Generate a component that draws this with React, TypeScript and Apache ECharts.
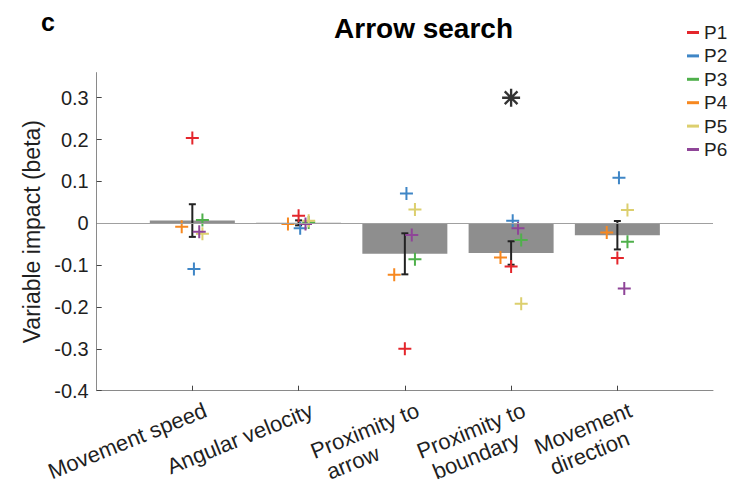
import { useEffect, useRef } from "react";
import * as echarts from "echarts";

// Predictors on the x axis (line breaks as in the axis labels)
const categories = [
  "Movement speed",
  "Angular velocity",
  "Proximity to\narrow",
  "Proximity to\nboundary",
  "Movement\ndirection",
];

// Group mean beta and its standard error for each predictor
const meanBeta = [0.0065, 0.001, -0.073, -0.071, -0.0285];
const semBeta = [0.039, 0.006, 0.049, 0.028, 0.034];

// Individual participants' betas, one value per predictor
const participants = ["P1", "P2", "P3", "P4", "P5", "P6"];
const betaP1 = [0.204, 0.018, -0.3, -0.103, -0.083];
const betaP2 = [-0.109, -0.012, 0.071, 0.006, 0.109];
const betaP3 = [0.008, 0.002, -0.086, -0.04, -0.044];
const betaP4 = [-0.008, -0.002, -0.123, -0.082, -0.022];
const betaP5 = [-0.025, 0.006, 0.033, -0.192, 0.032];
const betaP6 = [-0.02, -0.002, -0.028, -0.012, -0.156];

// Predictors marked as significant, and the height of the marker
const significantCategories = [4];
const significanceMarkLevel = 0.3;

// Tick values of the y axis
const yTicks = [-0.4, -0.3, -0.2, -0.1, 0, 0.1, 0.2, 0.3];

const FONT = "'Liberation Sans', Arial, Helvetica, sans-serif";
const TEXT = "#1f1f1f";
const AXIS = "#8a8a8a";
const COLORS = ["#e4262c", "#3f86c6", "#4fb04b", "#f7881f", "#dccf6e", "#8f4598"];
// horizontal offset of each participant's marker from the predictor centre
const JITTER = [0, 0.015, 0.095, -0.1, 0.095, 0.065];
// rotated tick labels hang slightly to the right of their tick
const LABEL_SHIFT = 0.08;
const X_MIN = 0.1;
const X_MAX = 5.9;

const CROSS = "path://M-1,-6.5H1V-1H6.5V1H1V6.5H-1V1H-6.5V-1H-1Z";

function asteriskPath(): string {
  const t = 0.13;
  let d = "";
  [0, 45, 90, 135].forEach((deg) => {
    const a = (deg * Math.PI) / 180;
    const c = Math.cos(a);
    const s = Math.sin(a);
    const pts = [
      [-t, -1],
      [t, -1],
      [t, 1],
      [-t, 1],
    ].map(([x, y]) => [x * c - y * s, x * s + y * c]);
    d +=
      "M" +
      pts.map((p) => p[0].toFixed(4) + "," + p[1].toFixed(4)).join("L") +
      "Z";
  });
  return "path://" + d;
}

export default function App() {
  const ref = useRef<HTMLDivElement>(null);

  useEffect(() => {
    document.body.style.margin = "0";
    if (!ref.current) return;
    const chart = echarts.init(ref.current, undefined, { renderer: "svg" });
    const betas = [betaP1, betaP2, betaP3, betaP4, betaP5, betaP6];
    const xIdx = categories.map((_, i) => i + 1);
    // blank end labels keep the rotated predictor labels clear of the
    // min/max overlap check
    const labelValues = [X_MIN, ...xIdx.map((i) => i + LABEL_SHIFT), X_MAX];

    const option: any = {
      animation: false,
      backgroundColor: "#ffffff",
      textStyle: { fontFamily: FONT },
      title: [
        {
          text: "Arrow search",
          left: 418.5,
          top: 9,
          textAlign: "center",
          textStyle: { fontSize: 28, fontWeight: "bold", color: "#000", fontFamily: FONT },
        },
        {
          text: "c",
          left: 36,
          top: 4,
          textStyle: { fontSize: 25, fontWeight: "bold", color: "#000", fontFamily: FONT },
        },
      ],
      legend: {
        data: participants,
        orient: "vertical",
        left: 687,
        top: 23,
        padding: 0,
        itemWidth: 12,
        itemHeight: 3,
        itemGap: 4.4,
        icon: "rect",
        textStyle: { fontSize: 19, lineHeight: 19, color: TEXT, fontFamily: FONT },
      },
      grid: { left: 96.7, right: 17, top: 72.6, bottom: 106.3 },
      xAxis: {
        type: "value",
        min: X_MIN,
        max: X_MAX,
        splitLine: { show: false },
        axisLine: { show: true, onZero: false, lineStyle: { color: AXIS, width: 1 } },
        axisTick: {
          show: true,
          inside: true,
          length: 5,
          customValues: xIdx,
          lineStyle: { color: "#444" },
        },
        axisLabel: {
          customValues: labelValues,
          showMinLabel: false,
          showMaxLabel: false,
          hideOverlap: false,
          rotate: 22,
          align: "right",
          verticalAlign: "top",
          margin: 7,
          formatter: (v: number) => {
            const idx = Math.round(v) - 1;
            if (v < 0.5 || v > categories.length + 0.5 || !categories[idx]) return "";
            const lines = categories[idx].split("\n");
            return lines.map((l, i) => (i === 0 ? "{a|" + l + "}" : "{b|" + l + "}")).join("\n");
          },
          rich: {
            a: { fontSize: 22, lineHeight: 25, color: TEXT, fontFamily: FONT },
            b: {
              fontSize: 22,
              lineHeight: 25,
              color: TEXT,
              fontFamily: FONT,
              align: "left",
              padding: [0, 0, 0, 7],
            },
          },
        },
      },
      yAxis: {
        type: "value",
        min: -0.4,
        max: 0.36,
        splitLine: { show: false },
        axisLine: { show: true, onZero: false, lineStyle: { color: AXIS, width: 1 } },
        axisTick: {
          show: true,
          inside: true,
          length: 5,
          customValues: yTicks,
          lineStyle: { color: "#444" },
        },
        axisLabel: {
          customValues: yTicks,
          showMinLabel: true,
          showMaxLabel: true,
          margin: 8,
          fontSize: 20,
          color: TEXT,
          fontFamily: FONT,
          formatter: (v: number) => (Math.abs(v) < 1e-9 ? "0" : v.toFixed(1)),
        },
        name: "Variable impact (beta)",
        nameLocation: "middle",
        nameGap: 42,
        nameTextStyle: { fontSize: 23, color: TEXT, fontFamily: FONT },
      },
      series: [
        {
          // zero reference line
          type: "line",
          data: [],
          z: 1,
          markLine: {
            silent: true,
            symbol: ["none", "none"],
            label: { show: false },
            lineStyle: { color: "#a0a0a0", width: 1, type: "solid" },
            data: [{ yAxis: 0 }],
          },
        },
        {
          // mean bars
          type: "custom",
          name: "mean",
          z: 2,
          data: meanBeta.map((m, i) => [i + 1, m]),
          renderItem: (_p: any, api: any) => {
            const x = api.value(0);
            const m = api.value(1);
            const a = api.coord([x - 0.4, 0]);
            const b = api.coord([x + 0.4, m]);
            return {
              type: "rect",
              shape: {
                x: a[0],
                y: Math.min(a[1], b[1]),
                width: b[0] - a[0],
                height: Math.max(Math.abs(b[1] - a[1]), 0.6),
              },
              style: { fill: "#8e8e8e" },
            };
          },
        },
        {
          // standard error bars
          type: "custom",
          name: "sem",
          z: 3,
          data: meanBeta.map((m, i) => [i + 1, m - semBeta[i], m + semBeta[i]]),
          renderItem: (_p: any, api: any) => {
            const x = api.value(0);
            const lo = api.coord([x, api.value(1)]);
            const hi = api.coord([x, api.value(2)]);
            const cap = 3.5;
            const st = { stroke: "#222", lineWidth: 2 };
            return {
              type: "group",
              children: [
                { type: "line", shape: { x1: lo[0], y1: lo[1], x2: hi[0], y2: hi[1] }, style: st },
                { type: "line", shape: { x1: lo[0] - cap, y1: lo[1], x2: lo[0] + cap, y2: lo[1] }, style: st },
                { type: "line", shape: { x1: hi[0] - cap, y1: hi[1], x2: hi[0] + cap, y2: hi[1] }, style: st },
              ],
            };
          },
        },
        ...participants.map((name, k) => ({
          type: "scatter",
          name,
          z: 4,
          symbol: CROSS,
          symbolSize: 13,
          itemStyle: { color: COLORS[k], opacity: 1 },
          data: betas[k].map((v, i) => [i + 1 + JITTER[k], v]),
        })),
        {
          // significance marker
          type: "scatter",
          name: "significant",
          z: 5,
          symbol: asteriskPath(),
          symbolSize: 18,
          itemStyle: { color: "#000" },
          data: significantCategories.map((c) => [c, significanceMarkLevel]),
        },
      ],
    };

    chart.setOption(option);
    return () => chart.dispose();
  }, []);

  return <div ref={ref} style={{ width: 730, height: 497 }} />;
}
